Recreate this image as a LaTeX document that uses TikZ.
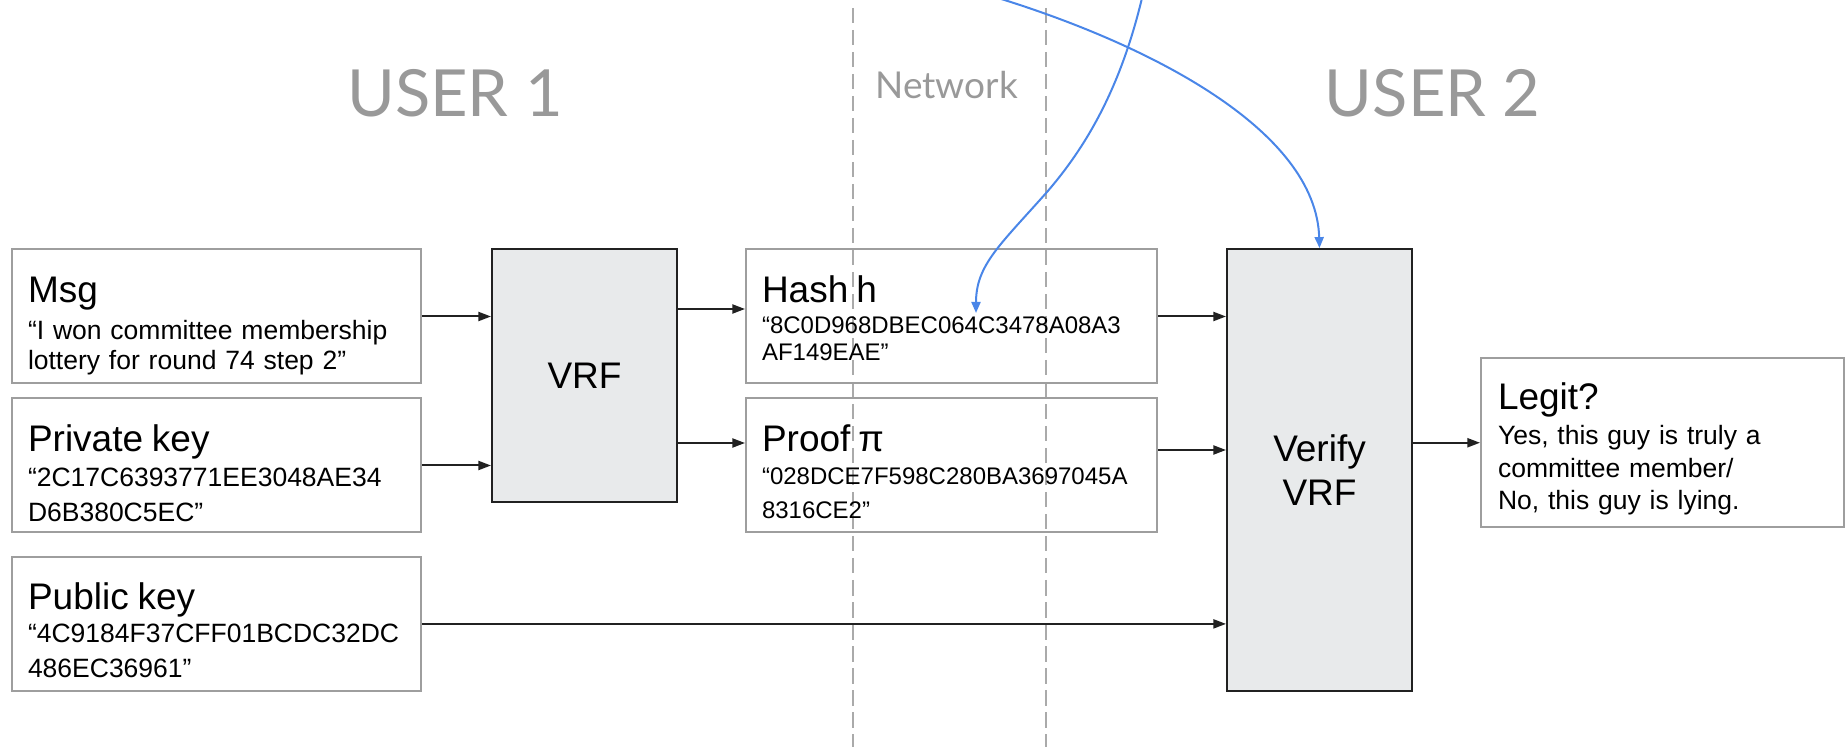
\documentclass[tikz,border=0pt]{standalone}
\usepackage{fontspec}
\setmainfont{Liberation Sans}
\newfontfamily\headingfont{Lato}
\usepackage{tikz}
\usetikzlibrary{arrows.meta,calc,positioning}

\definecolor{framegray}{RGB}{158,158,158}
\definecolor{inkgray}{RGB}{33,33,33}
\definecolor{blockfill}{RGB}{232,234,235}
\definecolor{headgray}{RGB}{153,153,153}
\definecolor{linkblue}{RGB}{74,134,232}
\definecolor{dashgray}{RGB}{170,170,170}

\newcommand{\keyfont}{\fontsize{18.5}{22}\selectfont}

\tikzset{%
	card/.style     = {draw=framegray, line width=1pt, rectangle, inner ysep=0pt, inner xsep=8pt, text width=188.5pt, align=left, text height=26.5pt, text depth=40.5pt}, % value box
	block/.style    = {draw=inkgray, fill=blockfill, line width=1pt, rectangle, minimum width=92.5pt, align=center, font=\keyfont}, % function
	heading/.style  = {text=headgray, anchor=base, font=\headingfont\fontsize{32.5}{32.5}\selectfont},
	arrow/.style    = {draw=inkgray, line width=1pt, -{Triangle[length=6.3pt,width=4.5pt]}},
	link/.style     = {draw=linkblue, line width=1pt, -{Triangle[length=5.5pt,width=4.5pt]}},
	divider/.style  = {draw=dashgray, line width=1pt, dash pattern=on 7.75pt off 3.25pt},
}

\begin{document}
\begin{tikzpicture}[x=0.5pt,y=-0.5pt]
	\useasboundingbox (0,0) rectangle (1845,747);

	% network strip
	\draw[divider] (853,8) -- (853,747);
	\draw[divider] (1046,8) -- (1046,747);
	\node [heading] (user1) at (455,116.7) {USER 1};
	\node [heading, font=\headingfont\fontsize{18.5}{18.5}\selectfont] (net) at (946.7,98.3) {Network};
	\node [heading] (user2) at (1432.7,117) {USER 2};

	% user 1
	\node [card, font=\fontsize{13.25}{15}\selectfont] (msg) at (216.5,316.5) {{\keyfont Msg}\\[3.3pt]“I won committee membership\\lottery for round 74 step 2”};
	\node [card, font=\fontsize{13.25}{17.5}\selectfont] (priv) [below of=msg, node distance=74.5pt] {{\keyfont Private key}\\“2C17C6393771EE3048AE34\\D6B380C5EC”};
	\node [card, font=\fontsize{13.25}{17.5}\selectfont] (pub) [below of=priv, node distance=79.2pt] {{\keyfont Public key}\\[-1.2pt]“4C9184F37CFF01BCDC32DC\\486EC36961”};
	\node [block, minimum height=126.5pt] (vrf) at (584.5,375.5) {VRF};
	\node [card, font=\fontsize{12}{13.3}\selectfont, text width=189.5pt] (hash) [right of=msg, node distance=367.5pt] {{\keyfont Hash h}\\[2.2pt]“8C0D968DBEC064C3478A08A3\\AF149EAE”};
	\node [card, font=\fontsize{12}{16.7}\selectfont, text width=189.5pt] (proof) [right of=priv, node distance=367.5pt] {{\keyfont Proof π}\\“028DCE7F598C280BA3697045A\\8316CE2”};

	% user 2
	\node [block, minimum height=220.75pt] (verify) at (1319.5,469.85) {Verify\\VRF};
	\node [card, font=\fontsize{13.25}{16.4}\selectfont, text width=164.5pt, inner xsep=8.5pt, text height=26pt, text depth=58.75pt] (legit) at (1662.5,442.75) {{\keyfont Legit?}\\[0.8pt]Yes, this guy is truly a\\committee member/\\No, this guy is lying.};

	\coordinate (src1) at (1142,-2);
	\coordinate (src2) at (998,-2);
	\coordinate (hashmark) at (976,313);

	\draw[arrow] (msg.east) -- (msg.east -| vrf.west);
	\draw[arrow] (priv.east) -- (priv.east -| vrf.west);
	\draw[arrow] ([yshift=3.75pt]hash.west -| vrf.east) -- ([yshift=3.75pt]hash.west);
	\draw[arrow] ([yshift=11.25pt]proof.west -| vrf.east) -- ([yshift=11.25pt]proof.west);
	\draw[arrow] (hash.east) -- (hash.east -| verify.west);
	\draw[arrow] ([yshift=7.75pt]proof.east) -- ([yshift=7.75pt]proof.east -| verify.west);
	\draw[arrow] (pub.east) -- (pub.east -| verify.west);
	\draw[arrow] (legit.west -| verify.east) -- (legit.west);

	\draw[link] (src1) .. controls (1120,90) and (1085,148) .. (1047,192) .. controls (1000,245) and (976,265) .. (hashmark);
	\draw[link] (src2) .. controls (1150,45) and (1316,130) .. (verify.north);
\end{tikzpicture}
\end{document}
